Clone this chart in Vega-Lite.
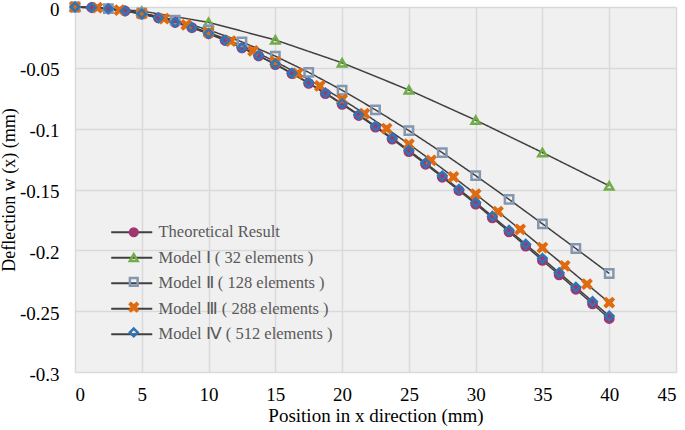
{
  "$schema": "https://vega.github.io/schema/vega-lite/v6.json",
  "autosize": {"type": "none"},
  "padding": {"left": 75, "top": 7, "right": 9, "bottom": 58},
  "width": 601,
  "height": 365,
  "background": "white",
  "config": {
    "view": {"stroke": null, "fill": "#f0f0f0"},
    "font": "Times New Roman, Liberation Serif, serif",
    "axis": {
      "grid": true,
      "gridColor": "#d9d9d9",
      "gridWidth": 1.5,
      "domain": false,
      "ticks": false,
      "labelFont": "Times New Roman, Liberation Serif, serif",
      "labelFontSize": 19,
      "labelColor": "#000000",
      "titleFont": "Times New Roman, Liberation Serif, serif",
      "titleFontSize": 19,
      "titleFontWeight": "normal",
      "titleColor": "#000000"
    },
    "legend": {
      "labelFont": "Times New Roman, Liberation Serif, serif",
      "labelFontSize": 16.5,
      "labelColor": "#595959",
      "labelLimit": 400,
      "padding": 0,
      "orient": "none"
    }
  },
  "data": {
    "values": [
      {"series": "Theoretical Result", "x": 0, "y": 0},
      {"series": "Theoretical Result", "x": 1.25, "y": -0.0004},
      {"series": "Theoretical Result", "x": 2.5, "y": -0.0015},
      {"series": "Theoretical Result", "x": 3.75, "y": -0.0033},
      {"series": "Theoretical Result", "x": 5, "y": -0.0058},
      {"series": "Theoretical Result", "x": 6.25, "y": -0.0089},
      {"series": "Theoretical Result", "x": 7.5, "y": -0.0127},
      {"series": "Theoretical Result", "x": 8.75, "y": -0.017},
      {"series": "Theoretical Result", "x": 10, "y": -0.022},
      {"series": "Theoretical Result", "x": 11.25, "y": -0.0275},
      {"series": "Theoretical Result", "x": 12.5, "y": -0.0336},
      {"series": "Theoretical Result", "x": 13.75, "y": -0.0402},
      {"series": "Theoretical Result", "x": 15, "y": -0.0473},
      {"series": "Theoretical Result", "x": 16.25, "y": -0.0548},
      {"series": "Theoretical Result", "x": 17.5, "y": -0.0628},
      {"series": "Theoretical Result", "x": 18.75, "y": -0.0712},
      {"series": "Theoretical Result", "x": 20, "y": -0.08},
      {"series": "Theoretical Result", "x": 21.25, "y": -0.0892},
      {"series": "Theoretical Result", "x": 22.5, "y": -0.0987},
      {"series": "Theoretical Result", "x": 23.75, "y": -0.1086},
      {"series": "Theoretical Result", "x": 25, "y": -0.1188},
      {"series": "Theoretical Result", "x": 26.25, "y": -0.1292},
      {"series": "Theoretical Result", "x": 27.5, "y": -0.1399},
      {"series": "Theoretical Result", "x": 28.75, "y": -0.1508},
      {"series": "Theoretical Result", "x": 30, "y": -0.162},
      {"series": "Theoretical Result", "x": 31.25, "y": -0.1733},
      {"series": "Theoretical Result", "x": 32.5, "y": -0.1848},
      {"series": "Theoretical Result", "x": 33.75, "y": -0.1965},
      {"series": "Theoretical Result", "x": 35, "y": -0.2083},
      {"series": "Theoretical Result", "x": 36.25, "y": -0.2201},
      {"series": "Theoretical Result", "x": 37.5, "y": -0.232},
      {"series": "Theoretical Result", "x": 38.75, "y": -0.244},
      {"series": "Theoretical Result", "x": 40, "y": -0.256},
      {"series": "Model Ⅰ ( 32 elements )", "x": 0, "y": 0},
      {"series": "Model Ⅰ ( 32 elements )", "x": 5, "y": -0.0033},
      {"series": "Model Ⅰ ( 32 elements )", "x": 10, "y": -0.0126},
      {"series": "Model Ⅰ ( 32 elements )", "x": 15, "y": -0.0271},
      {"series": "Model Ⅰ ( 32 elements )", "x": 20, "y": -0.0459},
      {"series": "Model Ⅰ ( 32 elements )", "x": 25, "y": -0.0682},
      {"series": "Model Ⅰ ( 32 elements )", "x": 30, "y": -0.093},
      {"series": "Model Ⅰ ( 32 elements )", "x": 35, "y": -0.1196},
      {"series": "Model Ⅰ ( 32 elements )", "x": 40, "y": -0.147},
      {"series": "Model Ⅱ ( 128 elements )", "x": 0, "y": 0},
      {"series": "Model Ⅱ ( 128 elements )", "x": 2.5, "y": -0.0013},
      {"series": "Model Ⅱ ( 128 elements )", "x": 5, "y": -0.0049},
      {"series": "Model Ⅱ ( 128 elements )", "x": 7.5, "y": -0.0108},
      {"series": "Model Ⅱ ( 128 elements )", "x": 10, "y": -0.0188},
      {"series": "Model Ⅱ ( 128 elements )", "x": 12.5, "y": -0.0287},
      {"series": "Model Ⅱ ( 128 elements )", "x": 15, "y": -0.0404},
      {"series": "Model Ⅱ ( 128 elements )", "x": 17.5, "y": -0.0537},
      {"series": "Model Ⅱ ( 128 elements )", "x": 20, "y": -0.0684},
      {"series": "Model Ⅱ ( 128 elements )", "x": 22.5, "y": -0.0845},
      {"series": "Model Ⅱ ( 128 elements )", "x": 25, "y": -0.1016},
      {"series": "Model Ⅱ ( 128 elements )", "x": 27.5, "y": -0.1197},
      {"series": "Model Ⅱ ( 128 elements )", "x": 30, "y": -0.1386},
      {"series": "Model Ⅱ ( 128 elements )", "x": 32.5, "y": -0.1581},
      {"series": "Model Ⅱ ( 128 elements )", "x": 35, "y": -0.1782},
      {"series": "Model Ⅱ ( 128 elements )", "x": 37.5, "y": -0.1985},
      {"series": "Model Ⅱ ( 128 elements )", "x": 40, "y": -0.219},
      {"series": "Model Ⅲ ( 288 elements )", "x": 0, "y": 0},
      {"series": "Model Ⅲ ( 288 elements )", "x": 1.667, "y": -0.0006},
      {"series": "Model Ⅲ ( 288 elements )", "x": 3.333, "y": -0.0025},
      {"series": "Model Ⅲ ( 288 elements )", "x": 5, "y": -0.0055},
      {"series": "Model Ⅲ ( 288 elements )", "x": 6.667, "y": -0.0096},
      {"series": "Model Ⅲ ( 288 elements )", "x": 8.333, "y": -0.0147},
      {"series": "Model Ⅲ ( 288 elements )", "x": 10, "y": -0.0209},
      {"series": "Model Ⅲ ( 288 elements )", "x": 11.667, "y": -0.028},
      {"series": "Model Ⅲ ( 288 elements )", "x": 13.333, "y": -0.036},
      {"series": "Model Ⅲ ( 288 elements )", "x": 15, "y": -0.0449},
      {"series": "Model Ⅲ ( 288 elements )", "x": 16.667, "y": -0.0545},
      {"series": "Model Ⅲ ( 288 elements )", "x": 18.333, "y": -0.0649},
      {"series": "Model Ⅲ ( 288 elements )", "x": 20, "y": -0.0759},
      {"series": "Model Ⅲ ( 288 elements )", "x": 21.667, "y": -0.0876},
      {"series": "Model Ⅲ ( 288 elements )", "x": 23.333, "y": -0.0999},
      {"series": "Model Ⅲ ( 288 elements )", "x": 25, "y": -0.1127},
      {"series": "Model Ⅲ ( 288 elements )", "x": 26.667, "y": -0.126},
      {"series": "Model Ⅲ ( 288 elements )", "x": 28.333, "y": -0.1397},
      {"series": "Model Ⅲ ( 288 elements )", "x": 30, "y": -0.1538},
      {"series": "Model Ⅲ ( 288 elements )", "x": 31.667, "y": -0.1682},
      {"series": "Model Ⅲ ( 288 elements )", "x": 33.333, "y": -0.1828},
      {"series": "Model Ⅲ ( 288 elements )", "x": 35, "y": -0.1977},
      {"series": "Model Ⅲ ( 288 elements )", "x": 36.667, "y": -0.2127},
      {"series": "Model Ⅲ ( 288 elements )", "x": 38.333, "y": -0.2278},
      {"series": "Model Ⅲ ( 288 elements )", "x": 40, "y": -0.243},
      {"series": "Model Ⅳ ( 512 elements )", "x": 0, "y": 0},
      {"series": "Model Ⅳ ( 512 elements )", "x": 1.25, "y": -0.0004},
      {"series": "Model Ⅳ ( 512 elements )", "x": 2.5, "y": -0.0015},
      {"series": "Model Ⅳ ( 512 elements )", "x": 3.75, "y": -0.0032},
      {"series": "Model Ⅳ ( 512 elements )", "x": 5, "y": -0.0057},
      {"series": "Model Ⅳ ( 512 elements )", "x": 6.25, "y": -0.0088},
      {"series": "Model Ⅳ ( 512 elements )", "x": 7.5, "y": -0.0126},
      {"series": "Model Ⅳ ( 512 elements )", "x": 8.75, "y": -0.0169},
      {"series": "Model Ⅳ ( 512 elements )", "x": 10, "y": -0.0218},
      {"series": "Model Ⅳ ( 512 elements )", "x": 11.25, "y": -0.0273},
      {"series": "Model Ⅳ ( 512 elements )", "x": 12.5, "y": -0.0333},
      {"series": "Model Ⅳ ( 512 elements )", "x": 13.75, "y": -0.0399},
      {"series": "Model Ⅳ ( 512 elements )", "x": 15, "y": -0.0469},
      {"series": "Model Ⅳ ( 512 elements )", "x": 16.25, "y": -0.0544},
      {"series": "Model Ⅳ ( 512 elements )", "x": 17.5, "y": -0.0623},
      {"series": "Model Ⅳ ( 512 elements )", "x": 18.75, "y": -0.0706},
      {"series": "Model Ⅳ ( 512 elements )", "x": 20, "y": -0.0794},
      {"series": "Model Ⅳ ( 512 elements )", "x": 21.25, "y": -0.0885},
      {"series": "Model Ⅳ ( 512 elements )", "x": 22.5, "y": -0.0979},
      {"series": "Model Ⅳ ( 512 elements )", "x": 23.75, "y": -0.1077},
      {"series": "Model Ⅳ ( 512 elements )", "x": 25, "y": -0.1178},
      {"series": "Model Ⅳ ( 512 elements )", "x": 26.25, "y": -0.1282},
      {"series": "Model Ⅳ ( 512 elements )", "x": 27.5, "y": -0.1388},
      {"series": "Model Ⅳ ( 512 elements )", "x": 28.75, "y": -0.1497},
      {"series": "Model Ⅳ ( 512 elements )", "x": 30, "y": -0.1607},
      {"series": "Model Ⅳ ( 512 elements )", "x": 31.25, "y": -0.172},
      {"series": "Model Ⅳ ( 512 elements )", "x": 32.5, "y": -0.1834},
      {"series": "Model Ⅳ ( 512 elements )", "x": 33.75, "y": -0.195},
      {"series": "Model Ⅳ ( 512 elements )", "x": 35, "y": -0.2066},
      {"series": "Model Ⅳ ( 512 elements )", "x": 36.25, "y": -0.2184},
      {"series": "Model Ⅳ ( 512 elements )", "x": 37.5, "y": -0.2302},
      {"series": "Model Ⅳ ( 512 elements )", "x": 38.75, "y": -0.2421},
      {"series": "Model Ⅳ ( 512 elements )", "x": 40, "y": -0.254}
    ]
  },
  "encoding": {
    "x": {
      "field": "x", "type": "quantitative",
      "scale": {"domain": [0, 45], "nice": false, "zero": false},
      "axis": {"values": [0, 5, 10, 15, 20, 25, 30, 35, 40, 45], "title": "Position in x direction (mm)", "labelPadding": 13, "titlePadding": 2}
    },
    "y": {
      "field": "y", "type": "quantitative",
      "scale": {"domain": [-0.3, 0], "nice": false, "zero": false},
      "axis": {"values": [0, -0.05, -0.1, -0.15, -0.2, -0.25, -0.3], "labelExpr": "'' + datum.value", "title": "Deflection w (x) (mm)", "titleFontSize": 18, "labelPadding": 16, "labelOffset": 2, "titlePadding": 1}
    }
  },
  "layer": [
    {
      "mark": {"type": "line", "color": "#404040", "strokeWidth": 1.5},
      "encoding": {
        "strokeDash": {
          "field": "series", "type": "nominal",
          "scale": {
            "domain": ["Theoretical Result", "Model Ⅰ ( 32 elements )", "Model Ⅱ ( 128 elements )", "Model Ⅲ ( 288 elements )", "Model Ⅳ ( 512 elements )", "unused"],
            "range": [[1, 0], [1, 0], [1, 0], [1, 0], [1, 0], [1, 0]]
          },
          "legend": {
            "title": null, "legendX": 48.5, "legendY": 217,
            "values": ["Theoretical Result", "Model Ⅰ ( 32 elements )", "Model Ⅱ ( 128 elements )", "Model Ⅲ ( 288 elements )", "Model Ⅳ ( 512 elements )"],
            "symbolType": "M-5.3,0H5.3", "symbolSize": 60, "symbolStrokeColor": "#404040", "symbolFillColor": "transparent", "symbolStrokeWidth": 2,
            "labelOffset": 18.5, "rowPadding": 8.5
          }
        }
      }
    },
    {
      "mark": {"type": "point", "strokeWidth": 2.5, "size": 70, "opacity": 1},
      "encoding": {
        "shape": {
          "field": "series", "type": "nominal",
          "scale": {
            "domain": ["Theoretical Result", "Model Ⅰ ( 32 elements )", "Model Ⅱ ( 128 elements )", "Model Ⅲ ( 288 elements )", "Model Ⅳ ( 512 elements )"],
            "range": ["circle", "triangle-up", "square", "M-0.75,-1L0,-0.35L0.75,-1L1,-0.75L0.35,0L1,0.75L0.75,1L0,0.35L-0.75,1L-1,0.75L-0.35,0L-1,-0.75Z", "diamond"]
          },
          "legend": {"title": null, "legendX": 50.5, "legendY": 217, "labelExpr": "''", "symbolSize": 60, "symbolStrokeWidth": 2.5, "rowPadding": 6.3}
        },
        "stroke": {
          "field": "series", "type": "nominal",
          "scale": {
            "domain": ["Theoretical Result", "Model Ⅰ ( 32 elements )", "Model Ⅱ ( 128 elements )", "Model Ⅲ ( 288 elements )", "Model Ⅳ ( 512 elements )"],
            "range": ["#A0376F", "#70AD47", "#8497B0", "#E06A12", "#2E75B6"]
          },
          "legend": {"title": null, "legendX": 50.5, "legendY": 217, "labelExpr": "''", "symbolSize": 60, "symbolStrokeWidth": 2.5, "rowPadding": 6.3}
        },
        "fill": {
          "field": "series", "type": "nominal",
          "scale": {
            "domain": ["Theoretical Result", "Model Ⅰ ( 32 elements )", "Model Ⅱ ( 128 elements )", "Model Ⅲ ( 288 elements )", "Model Ⅳ ( 512 elements )"],
            "range": ["#A0376F", "transparent", "transparent", "#E06A12", "transparent"]
          },
          "legend": {"title": null, "legendX": 50.5, "legendY": 217, "labelExpr": "''", "symbolSize": 60, "symbolStrokeWidth": 2.5, "rowPadding": 6.3}
        }
      }
    }
  ]
}
